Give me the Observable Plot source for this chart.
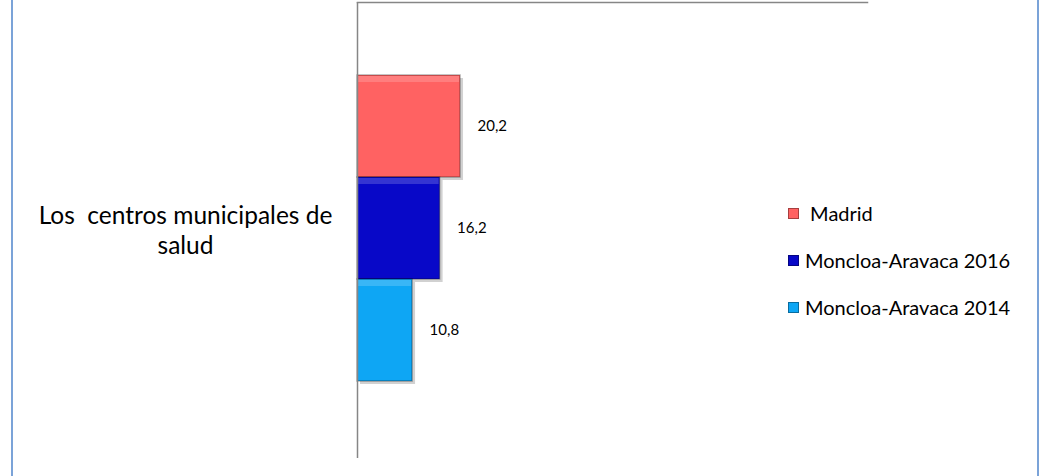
<!DOCTYPE html>
<html>
<head>
<meta charset="utf-8">
<script src="https://cdn.jsdelivr.net/npm/d3@7"></script>
<script src="https://cdn.jsdelivr.net/npm/@observablehq/plot@0.6"></script>
<style>
  html, body { margin: 0; padding: 0; background: #fff; }
  #wrap { position: relative; width: 1051px; height: 476px; overflow: hidden; font-family: Lato, "Open Sans", sans-serif; }
  #wrap svg { position: absolute; left: 0; top: 0; }
  .edge { position: absolute; top: 0; bottom: 0; width: 2px; background: #7ba3d8; }
  #legend { position: absolute; left: 788px; top: 0; }
  .item { position: absolute; left: 0; white-space: nowrap; font-size: 20px; line-height: 24px; color: #000; display: flex; align-items: center; transform: translateY(-50%); }
  .sw { display: inline-block; width: 11px; height: 11px; margin-right: 6px; box-sizing: border-box; border: 1px solid rgba(0,0,0,0.35); }
</style>
</head>
<body>
<div id="wrap">
  <div class="edge" style="left:11px"></div>
  <div class="edge" style="left:1037px"></div>
</div>
<script>
const category = "Los  centros municipales de\nsalud";
const series = ["Madrid", "Moncloa-Aravaca 2016", "Moncloa-Aravaca 2014"];
const values = [20.2, 16.2, 10.8];
const valueLabels = ["20,2", "16,2", "10,8"];
const legendLabels = [" Madrid", "Moncloa-Aravaca 2016", "Moncloa-Aravaca 2014"];
const colors = ["#ff6262", "#0808c8", "#0ea6f4"];

const data = series.map((s, i) => ({series: s, value: values[i], label: valueLabels[i]}));

const chart = Plot.plot({
  width: 1051,
  height: 476,
  marginLeft: 357,
  marginRight: 184,
  marginTop: 2,
  marginBottom: 18,
  style: {fontFamily: "Lato, 'Open Sans', sans-serif", background: "transparent"},
  x: {domain: [0, 100], axis: null},
  y: {domain: series, range: [75, 381], padding: 0, axis: null},
  color: {domain: series, range: colors},
  marks: [
    Plot.barX(data, {x: "value", y: "series", fill: "#000", fillOpacity: 0.18, dx: 3, dy: 3}),
    Plot.barX(data, {x: "value", y: "series", fill: "series", stroke: "#000", strokeOpacity: 0.3, strokeWidth: 1.5}),
    Plot.barX(data, {x: "value", y: "series", fill: "#fff", fillOpacity: 0.18, insetTop: 1, insetLeft: 1, insetRight: 1, insetBottom: 95}),
    Plot.text(data, {x: "value", y: "series", text: "label", textAnchor: "start", dx: 17, fontSize: 15, fill: "#000"}),
    Plot.ruleX([0], {stroke: "#868686", strokeWidth: 1.5}),
    Plot.frame({anchor: "top", stroke: "#868686", strokeWidth: 1.5}),
    Plot.text([category], {frameAnchor: "left", dx: -172, dy: -1, textAnchor: "middle", lineAnchor: "middle", fontSize: 24.5, lineHeight: 1.2, fill: "#000"})
  ]
});
const wrap = document.getElementById("wrap");
wrap.appendChild(chart);

const legend = document.createElement("div");
legend.id = "legend";
const centers = [213, 260, 307];
series.forEach((s, i) => {
  const it = document.createElement("div");
  it.className = "item";
  it.style.top = centers[i] + "px";
  const sw = document.createElement("span");
  sw.className = "sw";
  sw.style.background = chart.scale("color").apply(s);
  const tx = document.createElement("span");
  tx.textContent = legendLabels[i];
  tx.style.whiteSpace = "pre";
  it.appendChild(sw);
  it.appendChild(tx);
  legend.appendChild(it);
});
wrap.appendChild(legend);
</script>
</body>
</html>
